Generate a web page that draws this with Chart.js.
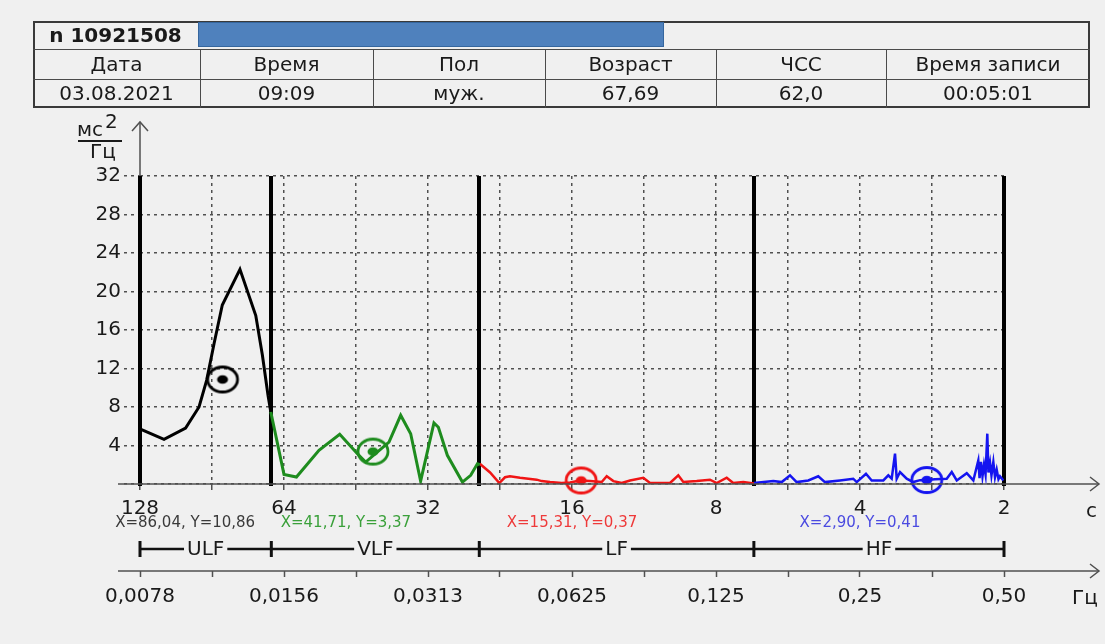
<!DOCTYPE html>
<html>
<head>
<meta charset="utf-8">
<script src="https://cdn.jsdelivr.net/npm/chart.js@4.4.1/dist/chart.umd.min.js"></script>
<style>
  html, body { margin: 0; padding: 0; background: #f0f0f0; }
  #wrap { position: relative; width: 1105px; height: 644px; overflow: hidden;
          font-family: 'DejaVu Sans', 'Liberation Sans', sans-serif; color: #1a1a1a; }
  #spec { position: absolute; left: 0; top: 0; }
  .box { position: absolute; left: 33px; top: 21px; width: 1057px; height: 87px;
         border: 2px solid #3a3a3a; box-sizing: border-box; }
  .hl { position: absolute; left: 33px; width: 1057px; height: 0; border-top: 1px solid #4a4a4a; }
  .vl { position: absolute; top: 49px; height: 59px; width: 0; border-left: 1px solid #4a4a4a; }
  .cell { position: absolute; height: 29px; line-height: 29px; text-align: center; font-size: 20px; white-space: nowrap; }
  .blue { position: absolute; left: 198px; top: 22px; width: 466px; height: 25px;
          background: #4f81bd; border: 1px solid #35669e; box-sizing: border-box; }
</style>
</head>
<body>
<div id="wrap">
  <canvas id="spec" width="1105" height="644"></canvas>
  <div id="hdr"></div>
</div>
<script>
// header table
const patientId = 'n 10921508';
const headers = ['Дата', 'Время', 'Пол', 'Возраст', 'ЧСС', 'Время записи'];
const values = ['03.08.2021', '09:09', 'муж.', '67,69', '62,0', '00:05:01'];

// spectrum, ms^2/Hz against frequency (Hz), one array per band
const ulfFreq = [0.00785, 0.00877, 0.00973, 0.01038, 0.01077, 0.01116, 0.01161, 0.01264, 0.01364, 0.01408, 0.01447, 0.01466];
const ulfPower = [5.68, 4.64, 5.82, 8.0, 10.8, 14.6, 18.6, 22.3, 17.5, 13.4, 9.2, 7.5];

const vlfFreq = [0.01466, 0.015625, 0.01659, 0.01849, 0.02043, 0.02225, 0.02315, 0.0259, 0.0274, 0.02875,
  0.03016, 0.03216, 0.03285, 0.0343, 0.03688, 0.03838, 0.03964, 0.0401];
const vlfPower = [7.5, 1.0, 0.72, 3.5, 5.16, 3.15, 2.28, 4.36, 7.14, 5.23,
  0.3, 6.34, 5.9, 2.98, 0.2, 0.9, 2.1, 2.0];

const lfFreq = [0.0401, 0.04213, 0.04405, 0.04527, 0.04636, 0.04866, 0.05274, 0.05402, 0.05622, 0.05947,
  0.0619, 0.06496, 0.06816, 0.0721, 0.07387, 0.07626, 0.0794, 0.08264, 0.0881, 0.091,
  0.10018, 0.10425, 0.1068, 0.11392, 0.12143, 0.12543, 0.1316, 0.13584, 0.14258, 0.15];
const lfPower = [2.1, 1.2, 0.1, 0.7, 0.8, 0.65, 0.45, 0.3, 0.2, 0.1,
  0.15, 0.37, 0.3, 0.2, 0.8, 0.3, 0.1, 0.37, 0.65, 0.1,
  0.1, 0.9, 0.2, 0.3, 0.45, 0.1, 0.65, 0.1, 0.2, 0.05];

const hfFreq = [0.15, 0.1647, 0.1715, 0.1785, 0.1843, 0.1949, 0.2045, 0.2112, 0.227, 0.242,
  0.2461, 0.2573, 0.2645, 0.2797, 0.2865, 0.2912, 0.2959, 0.2983, 0.3031, 0.313,
  0.3231, 0.3337, 0.3434, 0.3587, 0.3795, 0.3888, 0.3983, 0.4179, 0.4314, 0.4418,
  0.4445, 0.4475, 0.4508, 0.4541, 0.4575, 0.4614, 0.4639, 0.4675, 0.4707, 0.475,
  0.4788, 0.4827, 0.4869, 0.4904, 0.4984];
const hfPower = [0.1, 0.3, 0.2, 0.9, 0.2, 0.37, 0.8, 0.2, 0.37, 0.55,
  0.2, 1.07, 0.37, 0.37, 0.9, 0.55, 3.15, 0.55, 1.24, 0.55,
  0.2, 0.4, 0.41, 0.5, 0.55, 1.24, 0.37, 1.13, 0.37, 2.45,
  0.6, 2.3, 0.8, 2.0, 1.0, 5.23, 1.2, 2.2, 0.9, 2.28,
  0.7, 1.5, 0.5, 0.8, 0.37];

// peak markers: period (s) and power
const markerPeriod = [86.04, 41.71, 15.31, 2.90];
const markerPower = [10.86, 3.37, 0.37, 0.41];

// bands and axes
const bandNames = ['ULF', 'VLF', 'LF', 'HF'];
const bandEdges = [0.0078125, 0.0147, 0.04, 0.15, 0.5];
const bandColors = ['#000000', '#1e8c1e', '#f01414', '#1414f0'];
const statColors = ['#3a3a3a', '#3aa03a', '#ee3a3a', '#4a4ae0'];
const statAtPeriod = [103, 47.5, 16, 4];
const periodTicks = [128, 64, 32, 16, 8, 4, 2];
const hzTicks = ['0,0078', '0,0156', '0,0313', '0,0625', '0,125', '0,25', '0,50'];

// build the header table
const hdr = document.getElementById('hdr');
const colEdges = [33, 200, 373, 545, 716, 886, 1090];
let html = '<div class="box"></div><div class="blue"></div>';
html += '<div class="hl" style="top:49px"></div><div class="hl" style="top:79px"></div>';
html += `<div class="cell" style="left:33px;width:165px;top:21px;font-weight:bold">${patientId}</div>`;
for (let i = 0; i < headers.length; i++) {
  const l = colEdges[i], w = colEdges[i + 1] - l;
  if (i > 0) html += `<div class="vl" style="left:${l}px"></div>`;
  html += `<div class="cell" style="left:${l}px;width:${w}px;top:50px">${headers[i]}</div>`;
  html += `<div class="cell" style="left:${l}px;width:${w}px;top:79px">${values[i]}</div>`;
}
hdr.innerHTML = html;

// half-octave ticks
const octFreqs = periodTicks.map(p => 1 / p);
const gridFreqs = [];
octFreqs.forEach((f, i) => {
  gridFreqs.push(f);
  if (i < octFreqs.length - 1) gridFreqs.push(Math.sqrt(f * octFreqs[i + 1]));
});

function ringMarker(color) {
  const c = document.createElement('canvas');
  c.width = 38; c.height = 32;
  const g = c.getContext('2d');
  g.strokeStyle = color; g.lineWidth = 2.8;
  g.beginPath(); g.ellipse(19, 16, 15, 12.5, 0, 0, Math.PI * 2); g.stroke();
  g.fillStyle = color;
  g.beginPath(); g.ellipse(19, 16, 5.5, 4.3, 0, 0, Math.PI * 2); g.fill();
  return c;
}

const pts = (fs, ps) => fs.map((f, i) => ({ x: f, y: ps[i] }));
const fmt = v => v.toFixed(2).replace('.', ',');
const FONT = "'DejaVu Sans', 'Liberation Sans', sans-serif";

const markerSets = markerPeriod.map((p, i) => ({
  data: [{ x: 1 / p, y: markerPower[i] }],
  showLine: false, pointStyle: ringMarker(bandColors[i]), pointRadius: 4, clip: false
}));
const lineSets = [[ulfFreq, ulfPower, 3], [vlfFreq, vlfPower, 3], [lfFreq, lfPower, 2.5], [hfFreq, hfPower, 2.5]]
  .map(([f, p, w], i) => ({
    data: pts(f, p), borderColor: bandColors[i], borderWidth: w,
    pointRadius: 0, tension: 0, fill: false
  }));

// extra drawing: arrows, band separators, band bar, captions
const decor = {
  id: 'decor',
  beforeDatasetsDraw(chart) {
    const { ctx, chartArea: a, scales: { x, y } } = chart;
    ctx.save();
    ctx.strokeStyle = '#000'; ctx.lineWidth = 4;
    bandEdges.forEach(f => {
      const px = Math.round(x.getPixelForValue(f));
      ctx.beginPath(); ctx.moveTo(px, y.getPixelForValue(32)); ctx.lineTo(px, a.bottom + 2); ctx.stroke();
    });
    ctx.restore();
  },
  afterDraw(chart) {
    const { ctx, chartArea: a, scales: { x, y, x2 } } = chart;
    ctx.save();
    // axes with arrows
    ctx.strokeStyle = '#505050'; ctx.lineWidth = 1.5;
    const hAxis = yy => {
      ctx.beginPath(); ctx.moveTo(118, yy); ctx.lineTo(1099, yy); ctx.stroke();
      ctx.beginPath(); ctx.moveTo(1090, yy - 7); ctx.lineTo(1099, yy); ctx.lineTo(1090, yy + 7); ctx.stroke();
    };
    hAxis(a.bottom);
    hAxis(x2.top);
    ctx.beginPath(); ctx.moveTo(a.left, 176); ctx.lineTo(a.left, 122); ctx.stroke();
    ctx.beginPath(); ctx.moveTo(a.left - 8, 131); ctx.lineTo(a.left, 122); ctx.lineTo(a.left + 8, 131); ctx.stroke();

    // unit captions
    ctx.fillStyle = '#1a1a1a';
    ctx.font = '20px ' + FONT;
    ctx.textBaseline = 'alphabetic';
    ctx.textAlign = 'left';
    ctx.fillText('мс', 77, 136);
    ctx.fillText('2', 105, 128);
    ctx.fillText('Гц', 90, 158);
    ctx.lineWidth = 2; ctx.strokeStyle = '#1a1a1a';
    ctx.beginPath(); ctx.moveTo(78, 141); ctx.lineTo(122, 141); ctx.stroke();
    ctx.fillText('с', 1086, 517);
    ctx.fillText('Гц', 1072, 604);

    // peak captions
    ctx.font = '15px ' + FONT;
    ctx.textAlign = 'center';
    ctx.textBaseline = 'middle';
    markerPeriod.forEach((p, i) => {
      ctx.fillStyle = statColors[i];
      ctx.fillText(`X=${fmt(p)}, Y=${fmt(markerPower[i])}`, x.getPixelForValue(1 / statAtPeriod[i]), a.bottom + 39);
    });

    // band bar
    const yb = a.bottom + 65;
    const ex = bandEdges.map(f => x.getPixelForValue(f));
    ctx.strokeStyle = '#111'; ctx.lineWidth = 2.5;
    ctx.beginPath(); ctx.moveTo(ex[0], yb); ctx.lineTo(ex[ex.length - 1], yb); ctx.stroke();
    ctx.lineWidth = 3;
    ex.forEach(px => { ctx.beginPath(); ctx.moveTo(px, yb - 8); ctx.lineTo(px, yb + 8); ctx.stroke(); });
    ctx.font = '20px ' + FONT;
    bandNames.forEach((n, i) => {
      const cx = (ex[i] + ex[i + 1]) / 2;
      const w = ctx.measureText(n).width + 6;
      ctx.fillStyle = '#f0f0f0';
      ctx.fillRect(cx - w / 2, yb - 6, w, 12);
      ctx.fillStyle = '#1a1a1a';
      ctx.fillText(n, cx, yb + 1);
    });
    ctx.restore();
  }
};

new Chart(document.getElementById('spec'), {
  type: 'line',
  data: { datasets: [...markerSets, ...lineSets] },
  plugins: [decor],
  options: {
    responsive: false, animation: false, devicePixelRatio: 1, events: [],
    layout: { padding: { top: 176, right: 101, bottom: 0, left: 0 } },
    plugins: { legend: { display: false }, tooltip: { enabled: false } },
    scales: {
      x: {
        type: 'logarithmic', min: 1 / 128, max: 0.5, bounds: 'data', position: 'bottom', weight: 0,
        afterBuildTicks: s => { s.ticks = gridFreqs.map(v => ({ value: v })); },
        afterFit: s => { s.height = 87; },
        border: { display: false, dash: [3, 4] },
        grid: { color: (c) => (c.index === 0 || c.index === gridFreqs.length - 1) ? 'rgba(0,0,0,0)' : '#505050',
          lineWidth: 1.5, tickLength: 6, tickColor: '#505050', tickWidth: 1.5 },
        ticks: { autoSkip: false, maxRotation: 0, padding: 7, color: '#1a1a1a', font: { family: FONT, size: 20 },
          callback: (v, i) => i % 2 ? '' : String(periodTicks[i / 2]) }
      },
      x2: {
        type: 'logarithmic', min: 1 / 128, max: 0.5, bounds: 'data', position: 'bottom', weight: 1,
        afterBuildTicks: s => { s.ticks = gridFreqs.map(v => ({ value: v })); },
        afterFit: s => { s.height = 73; },
        border: { display: false },
        grid: { drawOnChartArea: false, tickLength: 6, tickColor: '#505050', tickWidth: 1.5 },
        ticks: { autoSkip: false, maxRotation: 0, padding: 8, color: '#1a1a1a', font: { family: FONT, size: 20 },
          callback: (v, i) => i % 2 ? '' : hzTicks[i / 2] }
      },
      y: {
        type: 'linear', min: 0, max: 32, position: 'left',
        afterFit: s => { s.width = 140; },
        border: { display: false, dash: [3, 4] },
        grid: { color: '#505050', lineWidth: 1.5, tickLength: 16, tickColor: '#505050', tickWidth: 1.5, tickBorderDash: [3, 4] },
        ticks: { stepSize: 4, padding: 3, color: '#1a1a1a', font: { family: FONT, size: 20 },
          callback: v => v === 0 ? '' : String(v) }
      }
    }
  }
});
</script>
</body>
</html>
